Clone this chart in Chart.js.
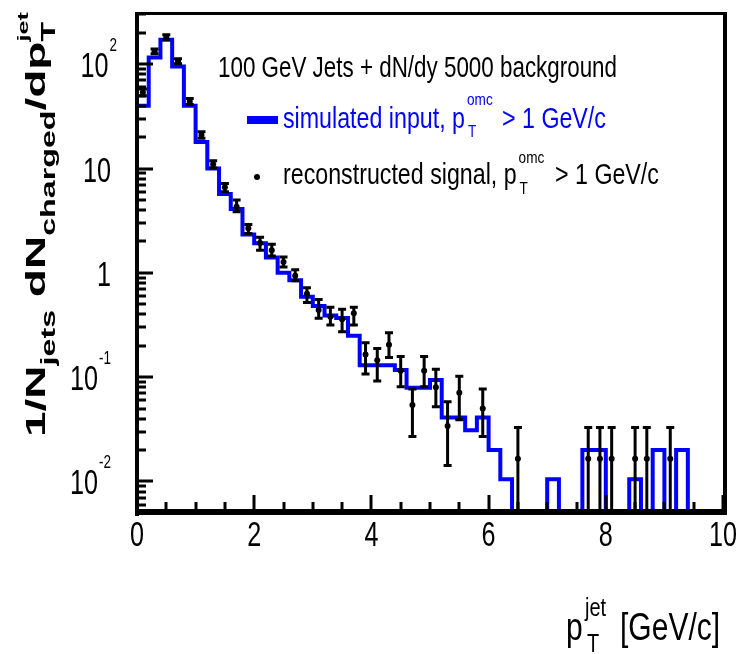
<!DOCTYPE html>
<html><head><meta charset="utf-8">
<script src="https://cdn.jsdelivr.net/npm/chart.js@4/dist/chart.umd.min.js"></script>
<style>html,body{margin:0;padding:0;background:#fff;}#wrap{width:738px;height:654px;}</style>
</head><body><div id="wrap"><canvas id="c" width="738" height="654"></canvas></div>
<script>
// ---- data ----
const binEdges = [0,0.2,0.4,0.6,0.8,1.0,1.2,1.4,1.6,1.8,2.0,2.2,2.4,2.6,2.8,3.0,3.2,3.4,3.6,3.8,
  4.0,4.2,4.4,4.6,4.8,5.0,5.2,5.4,5.6,5.8,6.0,6.2,6.4,6.6,6.8,7.0,7.2,7.4,7.6,7.8,
  8.0,8.2,8.4,8.6,8.8,9.0,9.2,9.4,9.6,9.8,10.0];
// simulated input histogram (one value per bin, 0 = empty bin)
const simulated = [40,116,172,95,40,18,10,5.7,4.1,2.33,
  1.92,1.40,1.00,0.85,0.59,0.48,0.39,0.37,0.25,0.13,
  0.13,0.13,0.117,0.079,0.079,0.094,0.041,0.041,0.031,0.041,
  0.020,0.0105,0,0,0,0.0105,0,0,0.02,0.02,
  0,0,0.0105,0,0.02,0,0.02,0,0,0];
// reconstructed signal points
const recoX    = [0.1,0.3,0.5,0.7,0.9,1.1,1.3,1.5,1.7,1.9,2.1,2.3,2.5,2.7,2.9,3.1,3.3,3.5,3.7,3.9,
  4.1,4.3,4.5,4.7,4.9,5.1,5.3,5.5,5.9,6.5,7.7,7.9,8.1,8.5,8.7,9.1];
const recoY    = [54,133,182,107,44,21,11,6.6,4.3,2.67,1.93,1.65,1.27,0.94,0.63,0.44,0.38,0.36,0.41,0.165,
  0.145,0.205,0.115,0.054,0.115,0.080,0.034,0.071,0.050,0.0165,0.0165,0.0165,0.0165,0.0165,0.0165,0.0165];
const recoLow  = [50,126,173,101,41,19.5,10.1,6.0,3.85,2.38,1.65,1.45,1.14,0.84,0.52,0.368,0.316,0.272,0.316,0.107,
  0.092,0.154,0.081,0.027,0.081,0.052,0.0142,0.039,0.027,0,0,0,0,0,0,0];
const recoHigh = [58,140,192,113,47,22.5,11.9,7.2,4.99,2.9,2.19,1.88,1.42,1.07,0.72,0.556,0.468,0.448,0.468,0.214,
  0.188,0.266,0.158,0.077,0.158,0.119,0.058,0.102,0.077,0.033,0.033,0.033,0.033,0.033,0.033,0.033];
const xTicks = [0,2,4,6,8,10];
const xTickLabels = ['0','2','4','6','8','10'];
const yTicks = [100,10,1,0.1,0.01];
const yTickBase = ['10','10','1','10','10'];
const yTickExp = ['2','','','-1','-2'];
const headerText = '100 GeV Jets + dN/dy 5000 background';
const legendSim = ['simulated input, p','T','omc','> 1 GeV/c'];
const legendReco = ['reconstructed signal, p','T','omc','> 1 GeV/c'];
const yTitle = [['1/N','main'],['jets','sub'],[' dN','main'],['charged','sub'],['/dp','main'],['T','sub'],['jet','sup']];
const xTitle = ['p','T','jet','[GeV/c]'];

// ---- styling ----
const BLUE = '#0000ff';
const FONT = '"Liberation Sans", Arial, Helvetica, sans-serif';
const FLOOR = 1e-5; // stands in for empty bins (below the axis)

const simPoints = binEdges.map((e, i) => {
  const v = simulated[Math.min(i, simulated.length - 1)];
  return {x: e, y: v > 0 ? v : FLOOR};
});
const recoPoints = recoX.map((x, i) => ({x: x, y: recoY[i]}));

function measure(ctx, s, px, bold) {
  ctx.save(); ctx.font = (bold ? 'bold ' : '') + px + 'px ' + FONT;
  const w = ctx.measureText(s).width; ctx.restore(); return w;
}
function drawText(ctx, s, x, y, px, o) {
  o = o || {};
  ctx.save();
  ctx.font = (o.bold ? 'bold ' : '') + px + 'px ' + FONT;
  ctx.fillStyle = o.color || '#000';
  ctx.textBaseline = 'alphabetic';
  ctx.textAlign = o.align || 'left';
  ctx.translate(x, y);
  ctx.scale(o.sx || 0.75, 1);
  ctx.fillText(s, 0, 0);
  const w = ctx.measureText(s).width * (o.sx || 0.75);
  ctx.restore();
  return w;
}

const decor = {
  id: 'decor',
  afterDatasetsDraw(chart) {
    const ctx = chart.ctx, xs = chart.scales.x, ys = chart.scales.y, a = chart.chartArea;
    // error bars
    ctx.save();
    ctx.beginPath(); ctx.rect(a.left, a.top, a.right - a.left, a.bottom - a.top); ctx.clip();
    ctx.strokeStyle = '#000'; ctx.lineWidth = 3; ctx.lineCap = 'butt';
    recoX.forEach((xv, i) => {
      const x = xs.getPixelForValue(xv);
      const yh = ys.getPixelForValue(recoHigh[i]);
      const yl = recoLow[i] > 0 ? ys.getPixelForValue(recoLow[i]) : a.bottom + 5;
      ctx.beginPath(); ctx.moveTo(x, yh); ctx.lineTo(x, yl); ctx.stroke();
      ctx.beginPath(); ctx.moveTo(x - 4, yh); ctx.lineTo(x + 4, yh);
      ctx.moveTo(x - 4, yl); ctx.lineTo(x + 4, yl); ctx.stroke();
    });
    ctx.restore();
  },
  afterDraw(chart) {
    const ctx = chart.ctx, xs = chart.scales.x, ys = chart.scales.y, a = chart.chartArea;
    ctx.save();
    ctx.fillStyle = '#000';
    // frame
    ctx.fillRect(a.left - 2, a.top - 2, a.right - a.left + 6, 3);
    ctx.fillRect(a.right, a.top - 2, 4, a.bottom - a.top + 5);
    ctx.fillRect(a.left - 2, a.top - 2, 4, a.bottom - a.top + 6);
    ctx.fillRect(a.left - 2, a.bottom - 3, a.right - a.left + 6, 6);
    // y ticks (log decades)
    for (let d = -3; d <= 3; d++) {
      for (let m = 1; m <= 9; m++) {
        const v = m * Math.pow(10, d);
        if (v < ys.min || v > ys.max) continue;
        const y = Math.round(ys.getPixelForValue(v));
        const len = m === 1 ? 14 : 7;
        ctx.fillRect(a.left + 2, y - 1.5, len, 3);
      }
    }
    // x ticks
    for (let k = 0; k <= 20; k++) {
      const v = k * 0.5;
      const x = Math.round(xs.getPixelForValue(v));
      const len = (k % 4 === 0) ? 14 : 7;
      ctx.fillRect(x - 1.5, a.bottom - 3 - len, 3, len);
    }
    // x tick labels
    xTicks.forEach((v, i) => {
      drawText(ctx, xTickLabels[i], xs.getPixelForValue(v), a.bottom + 34, 35, {align: 'center', sx: 0.72});
    });
    // y tick labels
    yTicks.forEach((v, i) => {
      const y = ys.getPixelForValue(v);
      const base = yTickBase[i], ex = yTickExp[i];
      if (ex) {
        const we = measure(ctx, ex, 18) * 0.75;
        const xr = ex.charAt(0) === '-' ? 111 : 117;
        drawText(ctx, ex, xr - we, y - 13, 18, {sx: 0.75});
        drawText(ctx, base, xr - we - 1, y + 13, 35, {align: 'right', sx: 0.72});
      } else {
        drawText(ctx, base, 111, y + 13, 35, {align: 'right', sx: 0.72});
      }
    });
    // header
    const hsx = 399 / measure(ctx, headerText, 30);
    drawText(ctx, headerText, 218, 77, 30, {sx: hsx});
    // legend
    const lsx = 182 / measure(ctx, legendSim[0], 30);
    ctx.fillStyle = BLUE; ctx.fillRect(247, 116, 31, 8);
    let w = drawText(ctx, legendSim[0], 283, 128, 30, {sx: lsx, color: BLUE});
    drawText(ctx, legendSim[1], 283 + w + 3, 137, 17, {sx: 0.8, color: BLUE});
    drawText(ctx, legendSim[2], 283 + w + 2, 105, 17, {sx: 0.8, color: BLUE});
    drawText(ctx, legendSim[3], 502, 128, 30, {sx: lsx, color: BLUE});
    ctx.fillStyle = '#000';
    ctx.beginPath(); ctx.arc(257, 177, 3, 0, Math.PI * 2); ctx.fill();
    w = drawText(ctx, legendReco[0], 283, 184, 30, {sx: lsx});
    drawText(ctx, legendReco[1], 283 + w + 3, 194, 17, {sx: 0.8});
    drawText(ctx, legendReco[2], 283 + w + 2, 163, 17, {sx: 0.8});
    drawText(ctx, legendReco[3], 555, 184, 30, {sx: lsx});
    // x title
    drawText(ctx, xTitle[0], 566, 640, 39, {sx: 0.77});
    drawText(ctx, xTitle[1], 587, 652, 26, {sx: 0.77});
    drawText(ctx, xTitle[2], 585, 616, 26, {sx: 0.77});
    drawText(ctx, xTitle[3], 620, 640, 39, {sx: 0.77});
    // y title (rotated)
    const sizes = {main: 40, sub: 28, sup: 22};
    const offs = {main: 0, sub: 14, sup: -24};
    let L = 0, lastSubW = 0;
    const pos = [];
    yTitle.forEach(([s, kind]) => {
      const wv = measure(ctx, s, sizes[kind], true);
      if (kind === 'sup') { pos.push(L - lastSubW); L = Math.max(L, L - lastSubW + wv); }
      else { pos.push(L); L += wv; lastSubW = kind === 'sub' ? wv : 0; }
    });
    const k = 425 / L;
    ctx.save();
    ctx.translate(45, 437);
    ctx.scale(0.7, 1);
    ctx.rotate(-Math.PI / 2);
    ctx.scale(k, 1);
    ctx.fillStyle = '#000';
    yTitle.forEach(([s, kind], i) => {
      ctx.font = 'bold ' + sizes[kind] + 'px ' + FONT;
      ctx.fillText(s, pos[i], offs[kind]);
    });
    ctx.restore();
    ctx.restore();
  }
};

new Chart(document.getElementById('c'), {
  type: 'line',
  data: {
    datasets: [
      {
        label: 'reconstructed signal',
        data: recoPoints,
        showLine: false,
        pointStyle: 'circle',
        pointRadius: 3,
        pointBackgroundColor: '#000',
        pointBorderColor: '#000',
        pointBorderWidth: 0
      },
      {
        label: 'simulated input',
        data: simPoints,
        stepped: 'before',
        borderColor: BLUE,
        borderWidth: 4,
        pointRadius: 0,
        fill: false,
        tension: 0,
        borderJoinStyle: 'miter',
        borderCapStyle: 'butt'
      }
    ]
  },
  options: {
    responsive: false,
    animation: false,
    devicePixelRatio: 1,
    layout: {padding: {left: 129, right: 15, top: 14, bottom: 134}},
    plugins: {legend: {display: false}, tooltip: {enabled: false}, title: {display: false}},
    scales: {
      x: {type: 'linear', min: 0, max: 10,
          ticks: {display: false}, grid: {display: false}, border: {display: false}},
      y: {type: 'logarithmic', min: 0.0051, max: 303,
          ticks: {display: false}, grid: {display: false}, border: {display: false}}
    }
  },
  plugins: [decor]
});
</script>
</body></html>
